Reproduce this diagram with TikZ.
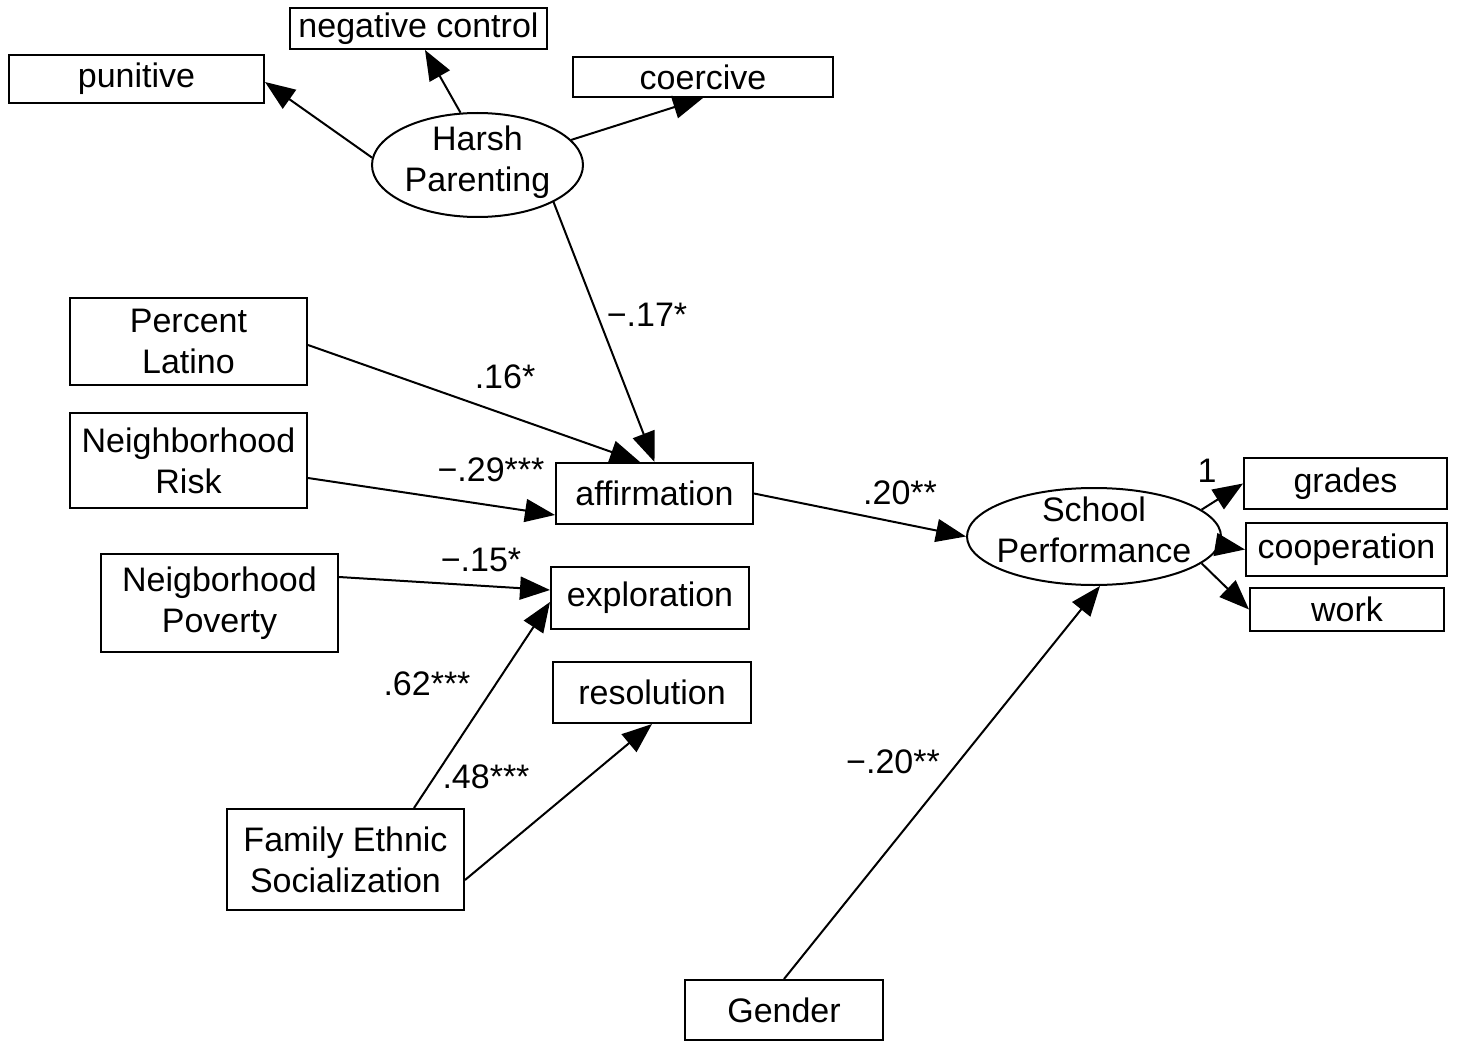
\documentclass[tikz,border=0pt]{standalone}
\usepackage{fontspec}
\setmainfont{Liberation Sans}
\usetikzlibrary{arrows.meta,shapes.geometric}
\begin{document}
\begin{tikzpicture}[x=1pt,y=-1pt,
 box/.style={draw, line width=2pt, inner sep=0pt, align=center, font=\fontsize{34}{41}\selectfont},
 lat/.style={draw, ellipse, line width=2pt, inner sep=0pt},
 lattext/.style={align=center, font=\fontsize{34}{41}\selectfont, inner sep=0pt},
 pathar/.style={line width=2pt, -{Triangle[length=30pt,width=23pt]}},
 coef/.style={font=\fontsize{34}{41}\selectfont, inner sep=0pt}]
\useasboundingbox (0,0) rectangle (1457,1043);
% indicator boxes
\node[box, minimum width=255pt, minimum height=48pt] (punitive) at (136.5,79) {punitive};
\node[box, minimum width=257pt, minimum height=41pt] (negctrl) at (418.5,28.5) {negative control};
\node[box, minimum width=260pt, minimum height=40pt] (coercive) at (703,77) {coercive};
% latent harsh parenting
\node[lat, minimum width=211pt, minimum height=104pt, label={[lattext, yshift=3pt]center:{Harsh\\Parenting}}] (harsh) at (477.5,165) {};
% predictors
\node[box, minimum width=237pt, minimum height=87pt] (latino) at (188.5,341.5) {Percent\\Latino};
\node[box, minimum width=237pt, minimum height=95pt] (risk) at (188.5,460.5) {Neighborhood\\Risk};
\node[box, minimum width=237pt, minimum height=98pt] (poverty) at (219.5,603) {Neigborhood\\Poverty};
\node[box, minimum width=237pt, minimum height=101pt] (fes) at (345.5,859.5) {Family Ethnic\\Socialization};
\node[box, minimum width=198pt, minimum height=60pt] (gender) at (784,1010) {Gender};
% identity
\node[box, minimum width=197pt, minimum height=61pt] (affirm) at (654.5,493.5) {affirmation};
\node[box, minimum width=198pt, minimum height=62pt] (explor) at (650,598) {exploration};
\node[box, minimum width=198pt, minimum height=61pt] (resol) at (652,692.5) {resolution};
% school performance
\node[lat, minimum width=254pt, minimum height=97pt, label={[lattext, yshift=7pt]center:{School\\Performance}}] (school) at (1094,536.5) {};
\node[box, minimum width=203pt, minimum height=51pt] (grades) at (1345.5,483.5) {grades};
\node[box, minimum width=201pt, minimum height=53pt] (coop) at (1346.5,549.5) {cooperation};
\node[box, minimum width=194pt, minimum height=43pt] (work) at (1347,609.5) {work};
% paths
\draw[pathar] (harsh.176) -- ([yshift=-3pt]punitive.east);
\draw[pathar] (harsh.108) -- ([xshift=6.5pt]negctrl.south);
\draw[pathar] (harsh.15) -- (coercive.south);
\draw[pathar] (harsh.-26) -- (affirm.north);
\draw[pathar] ([yshift=-3.5pt]latino.east) -- ([xshift=-14.5pt]affirm.north);
\draw[pathar] ([yshift=-17.5pt]risk.east) -- ([yshift=-21.5pt]affirm.west);
\draw[pathar] ([yshift=26pt]poverty.east) -- ([yshift=8pt]explor.west);
\draw[pathar] ([xshift=68.5pt]fes.north) -- ([yshift=-4pt]explor.west);
\draw[pathar] ([yshift=-20.5pt]fes.east) -- (resol.south);
\draw[pathar] (affirm.east) -- (school.west);
\draw[pathar] (gender.north) -- ([xshift=6pt]school.south);
\draw[pathar] (school.14) -- (grades.west);
\draw[pathar] (school.-4) -- (coop.west);
\draw[pathar] (school.-14) -- (work.west);
% coefficients
\node[coef] (c1) at (647,315) {−.17*};
\node[coef] (c2) at (505,377) {.16*};
\node[coef] (c3) at (491,470) {−.29***};
\node[coef] (c4) at (481,560) {−.15*};
\node[coef] (c5) at (427,684) {.62***};
\node[coef] (c6) at (486,777) {.48***};
\node[coef] (c7) at (900,493) {.20**};
\node[coef] (c8) at (893,762) {−.20**};
\node[coef] (c9) at (1207,471) {1};
\end{tikzpicture}
\end{document}
